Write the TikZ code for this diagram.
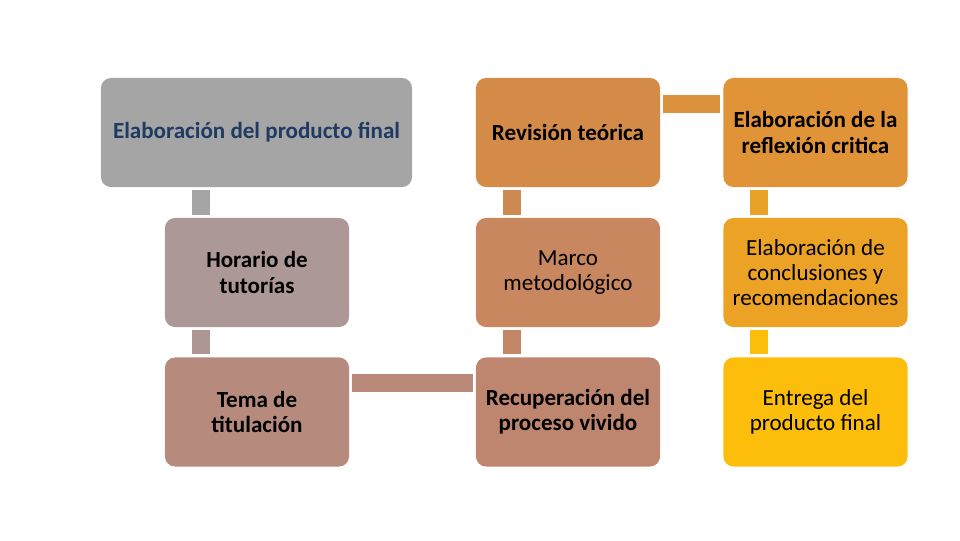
\documentclass[tikz,border=0pt]{standalone}
\usepackage{fontspec}
\setmainfont{Carlito}
\definecolor{pasoA}{HTML}{A5A5A5}
\definecolor{pasoB}{HTML}{AC9896}
\definecolor{pasoC}{HTML}{B78A7E}
\definecolor{pasoD}{HTML}{BE866E}
\definecolor{pasoE}{HTML}{C8875F}
\definecolor{pasoF}{HTML}{D48B48}
\definecolor{pasoG}{HTML}{E09437}
\definecolor{pasoH}{HTML}{ECA325}
\definecolor{pasoI}{HTML}{FCBE0A}
\definecolor{azultexto}{HTML}{1F3B63}

\begin{document}
\begin{tikzpicture}[x=0.025cm,y=-0.025cm,
  paso/.style={rounded corners=0.25cm, minimum width=4.6cm, minimum height=2.725cm,
    align=center, inner sep=0pt, text=black, font=\fontsize{16.4}{17.8}\selectfont},
  barra/.style={line width=0.44cm, shorten <=0.07cm, shorten >=0.07cm}]
\useasboundingbox (0,0) rectangle (960,540);
% fila de arriba
\node[paso, fill=pasoA, minimum width=7.775cm, text=azultexto] (prod) at (256.5,132.5) {\bfseries Elaboración del producto final};
\node[paso, fill=pasoF] (revi) at (568,132.5) {\bfseries Revisión teórica};
\node[paso, fill=pasoG] (refl) at (815.5,132.5) {\bfseries Elaboración de la\\\bfseries reflexión critica};
% fila del medio
\node[paso, fill=pasoB] (hora) at (257,272.5) {\bfseries Horario de\\\bfseries tutorías};
\node[paso, fill=pasoE] (marco) at (568,272.5) {Marco\\metodológico};
\node[paso, fill=pasoH] (concl) at (815.5,272.5) {Elaboración de\\conclusiones y\\recomendaciones};
% fila de abajo
\node[paso, fill=pasoC] (tema) at (257,412) {\bfseries Tema de\\\bfseries titulación};
\node[paso, fill=pasoD] (recu) at (568,412) {\bfseries Recuperación del\\\bfseries proceso vivido};
\node[paso, fill=pasoI] (entr) at (815.5,412) {Entrega del\\producto final};
% barras
\draw[barra, pasoA] ([xshift=0.9cm]hora.north west |- prod.south) -- ([xshift=0.9cm]hora.north west);
\draw[barra, pasoB!85!pasoC] ([xshift=0.9cm]hora.south west) -- ([xshift=0.9cm]tema.north west);
\draw[barra, pasoC!70!pasoD] ([yshift=-0.65cm]tema.north east) -- ([yshift=-0.65cm]recu.north west);
\draw[barra, pasoD!55!pasoE] ([xshift=0.9cm]recu.north west) -- ([xshift=0.9cm]marco.south west);
\draw[barra, pasoE!45!pasoF] ([xshift=0.9cm]marco.north west) -- ([xshift=0.9cm]revi.south west);
\draw[barra, pasoF!30!pasoG] ([yshift=-0.65cm]revi.north east) -- ([yshift=-0.65cm]refl.north west);
\draw[barra, pasoG!15!pasoH] ([xshift=0.9cm]refl.south west) -- ([xshift=0.9cm]concl.north west);
\draw[barra, pasoI] ([xshift=0.9cm]concl.south west) -- ([xshift=0.9cm]entr.north west);
\end{tikzpicture}
\end{document}
